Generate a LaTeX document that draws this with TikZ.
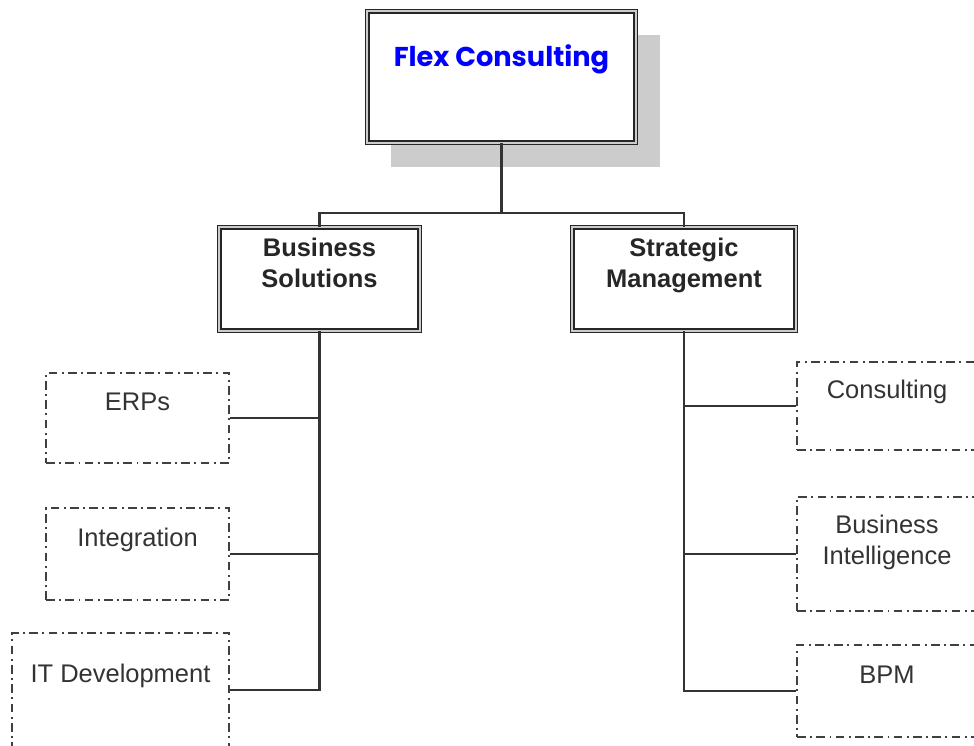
\documentclass[tikz,border=0pt]{standalone}
\usepackage{fontspec}
\setmainfont{Liberation Sans}
\newfontfamily\flexfont{Poppins}
\usetikzlibrary{shadows}

\begin{document}
\begin{tikzpicture}[x=0.02cm,y=-0.02cm,
  unit/.style={draw=black!85,line width=0.75pt,double=black!20,double distance=1.1pt,
    align=center,inner sep=2pt,font=\fontsize{14.5}{17.6}\selectfont\bfseries,text=black!85,
    text height=28pt,text depth=0.66cm},
  leaf/.style={draw=black!75,line width=0.8pt,dash pattern=on 5pt off 2.5pt on 1pt off 2.5pt,
    align=center,inner sep=2pt,font=\fontsize{14.5}{17.6}\selectfont,text=black!80,
    text height=10.4pt,text depth=0.68cm},
  link/.style={draw=black!80,line width=1.3pt}]
\useasboundingbox (0,0) rectangle (974,745);
\clip (0,0) rectangle (974,745);
\node[unit,fill=white,drop shadow={shadow xshift=0.48cm,shadow yshift=-0.48cm,fill=black!20,opacity=1},
  minimum width=5.37cm,minimum height=2.63cm,font=\fontsize{15.5}{18}\flexfont\bfseries,text=blue,
  text height=11pt,text depth=0.8cm] (flex) at (501.5,77) {Flex Consulting};
\node[unit,minimum width=4.01cm,minimum height=2.07cm] (bs) at (319.5,279) {Business\\Solutions};
\node[unit,minimum width=4.47cm,minimum height=2.07cm] (sm) at (684,279) {Strategic\\Management};
\node[leaf,minimum width=3.66cm,minimum height=1.8cm] (erp) at (137.5,418) {ERPs};
\node[leaf,minimum width=3.66cm,minimum height=1.84cm] (int) at (137.5,554) {Integration};
\node[leaf,minimum width=4.34cm,minimum height=2.28cm] (itd) at (120.5,690) {IT Development};
\node[leaf,minimum width=3.6cm,minimum height=1.76cm] (cons) at (887,406) {Consulting};
\node[leaf,minimum width=3.6cm,minimum height=2.28cm,text height=28pt,text depth=0.58cm] (bi) at (887,554) {Business\\Intelligence};
\node[leaf,minimum width=3.6cm,minimum height=1.84cm] (bpm) at (887,691) {BPM};
\coordinate (split) at (501.5,213);
\draw[link] (flex.south) -- (split) -| (bs.north);
\draw[link] (split) -| (sm.north);
\draw[link] (bs.south) |- (itd.east);
\draw[link] (erp.east) -- (erp.east -| bs.south);
\draw[link] (int.east) -- (int.east -| bs.south);
\draw[link] (sm.south) |- (bpm.west);
\draw[link] (cons.west) -- (cons.west -| sm.south);
\draw[link] (bi.west) -- (bi.west -| sm.south);
\end{tikzpicture}
\end{document}
